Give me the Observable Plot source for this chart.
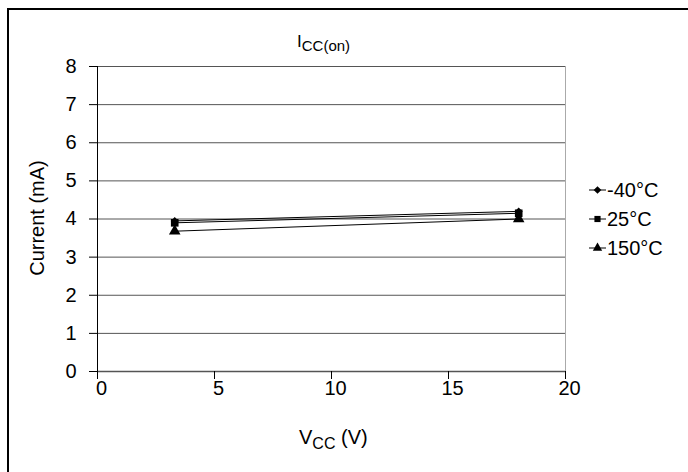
<!DOCTYPE html>
<html>
<head>
<meta charset="utf-8">
<script src="https://cdn.jsdelivr.net/npm/d3@7"></script>
<script src="https://cdn.jsdelivr.net/npm/@observablehq/plot@0.6"></script>
<style>
  html, body { margin: 0; padding: 0; background: #fff; }
  #wrap { position: relative; width: 688px; height: 472px; overflow: hidden; }
  #border { position: absolute; left: 7px; top: 8px; width: 800px; height: 600px; border-top: 2px solid #000; border-left: 2px solid #000; box-sizing: border-box; pointer-events: none; }
  #chart { position: absolute; left: 0; top: 0; width: 688px; height: 472px; }
</style>
</head>
<body>
<div id="wrap"><div id="chart"></div><div id="border"></div></div>
<script>
const vcc = [3.3, 18];
const seriesNames = ["-40°C", "25°C", "150°C"];
const seriesSymbols = ["diamond2", "square", "triangle"];
const iMinus40 = [3.95, 4.2];
const i25 = [3.9, 4.15];
const i150 = [3.68, 4.0];
const xTicks = [0, 5, 10, 15, 20];
const yTicks = [0, 1, 2, 3, 4, 5, 6, 7, 8];

const seriesValues = [iMinus40, i25, i150];
const series = seriesNames.map((name, s) => vcc.map((v, i) => ({series: name, x: v, y: seriesValues[s][i]})));

const font = "'Liberation Sans', Arial, sans-serif";
const FS = 20;
const plot = Plot.plot({
  width: 688,
  height: 472,
  marginLeft: 97,
  marginRight: 123,
  marginTop: 66,
  marginBottom: 101,
  style: {fontFamily: font, fontSize: FS + "px", color: "#000", background: "transparent"},
  x: {domain: [0, 20], label: null},
  y: {domain: [0, 8], label: null},
  marks: [
    Plot.gridY(yTicks, {stroke: "#555", strokeOpacity: 1, strokeWidth: 1}),
    Plot.ruleX([20], {stroke: "#aaa", strokeWidth: 1}),
    Plot.ruleY([0], {stroke: "#555", strokeWidth: 1.5}),
    Plot.ruleX([0], {stroke: "#000", strokeWidth: 1}),
    Plot.axisX({ticks: xTicks, tickSize: 8, tickFormat: () => "", label: null, stroke: "#000"}),
    Plot.axisX({ticks: xTicks, tickSize: 0, tickPadding: 9, dx: 4, label: null, fontSize: FS, fill: "#000"}),
    Plot.axisY({ticks: yTicks, tickSize: 8, tickPadding: 13, label: null, fontSize: FS, stroke: "#000", fill: "#000"}),
    ...series.map(d => Plot.line(d, {x: "x", y: "y", stroke: "#000", strokeWidth: 1})),
    ...series.map((d, s) => Plot.dot(d, {x: "x", y: "y", symbol: seriesSymbols[s], fill: "#000", stroke: "none", r: s === 0 ? 3.6 : 4.3}))
  ]
});
document.getElementById("chart").appendChild(plot);

const svg = d3.select(plot);
// Title
const title = svg.append("text").attr("x", 297).attr("y", 47).attr("text-anchor", "start")
  .attr("font-family", font).attr("font-size", 17).attr("fill", "#000");
title.append("tspan").text("I");
title.append("tspan").attr("dy", 4).attr("font-size", 15).text("CC(on)");
// X label
const xl = svg.append("text").attr("x", 299).attr("y", 444).attr("text-anchor", "start")
  .attr("font-family", font).attr("font-size", FS).attr("fill", "#000");
xl.append("tspan").text("V");
xl.append("tspan").attr("dy", 5).attr("font-size", 16).text("CC");
xl.append("tspan").attr("dy", -5).text(" (V)");
// Y label
svg.append("text").attr("transform", "translate(44,218) rotate(-90)").attr("text-anchor", "middle")
  .attr("font-family", font).attr("font-size", FS).attr("fill", "#000").text("Current (mA)");
// Legend
const legendY = [190, 219, 248];
const legendSym = [d3.symbolDiamond2, d3.symbolSquare, d3.symbolTriangle];
seriesNames.forEach((name, i) => {
  const g = svg.append("g").attr("transform", `translate(0,${legendY[i]})`);
  g.append("line").attr("x1", 589).attr("x2", 606).attr("y1", 0).attr("y2", 0).attr("stroke", "#000");
  g.append("path").attr("transform", "translate(597.5,0)").attr("d", d3.symbol(legendSym[i], 38)()).attr("fill", "#000");
  g.append("text").attr("x", 607).attr("y", 7).attr("text-anchor", "start").attr("font-family", font).attr("font-size", FS).attr("fill", "#000").text(name);
});
</script>
</body>
</html>
